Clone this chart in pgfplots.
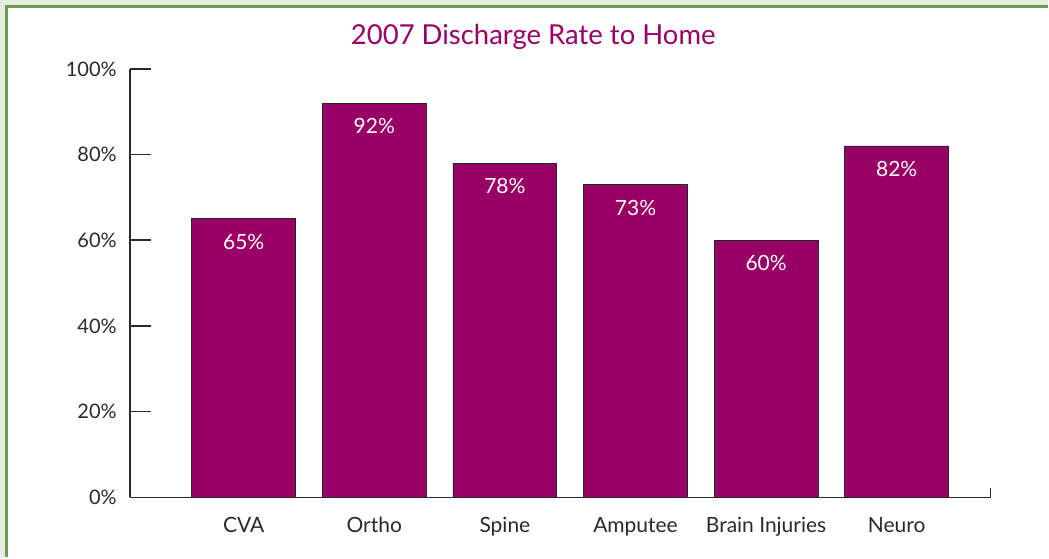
\documentclass[border=0pt]{standalone}
\usepackage{pgfplots}
\pgfplotsset{compat=1.18}
\usepackage{fontspec}
\setmainfont{Lato}
\definecolor{barc}{HTML}{990066}
\definecolor{bgc}{HTML}{E5ECE0}
\definecolor{framec}{HTML}{6A9A50}
\definecolor{axc}{HTML}{2A2A2A}
\begin{document}
\begin{tikzpicture}[x=1bp,y=1bp]
\fill[bgc] (0,0) rectangle (1049,558);
\fill[white] (8,0) rectangle (1049,550);
\draw[framec, line width=3bp] (7,0) -- (7,551) -- (1049,551);
\path[use as bounding box] (0,0) rectangle (1049,558);
\node[anchor=base, text=barc, font=\fontsize{27.5bp}{32bp}\selectfont, inner sep=0pt] at (534,513) {2007 Discharge Rate to Home};
\begin{axis}[
  at={(130bp,60bp)}, anchor=south west,
  width=862bp, height=429bp, scale only axis,
  xmin=-0.872, xmax=5.719, ymin=0, ymax=100,
  axis x line=bottom, axis y line=left,
  axis line style={-, line width=1.5bp, axc},
  clip=false,
  ybar, bar width=104bp,
  xtick={0,1,2,3,4,5},
  xticklabels={CVA, Ortho, Spine, Amputee, Brain Injuries, Neuro},
  x tick style={draw=none},
  ytick={0,20,40,60,80,100},
  tick align=inside,
  y tick style={line width=1.5bp, axc},
  major tick length=21bp,
  yticklabel={\pgfmathprintnumber{\tick}\%},
  /pgf/number format/assume math mode=true,
  tick label style={font=\fontsize{20bp}{24bp}\selectfont, text=axc},
  yticklabel style={inner sep=0pt, xshift=-13bp},
  xticklabel style={inner sep=0pt, anchor=base, yshift=-35bp, font=\fontsize{21bp}{24bp}\selectfont},
  nodes near coords={\pgfmathprintnumber{\pgfplotspointmeta}\%},
  every node near coord/.append style={text=white, anchor=center, yshift=-23bp, font=\fontsize{21bp}{24bp}\selectfont},
]
\addplot[fill=barc, draw=black!85, line width=0.8bp] coordinates {(0,65) (1,92) (2,78) (3,73) (4,60) (5,82)};
\draw[line width=1.5bp, axc] (rel axis cs:1,0) -- (rel axis cs:1,0.021);
\end{axis}
\end{tikzpicture}
\end{document}
